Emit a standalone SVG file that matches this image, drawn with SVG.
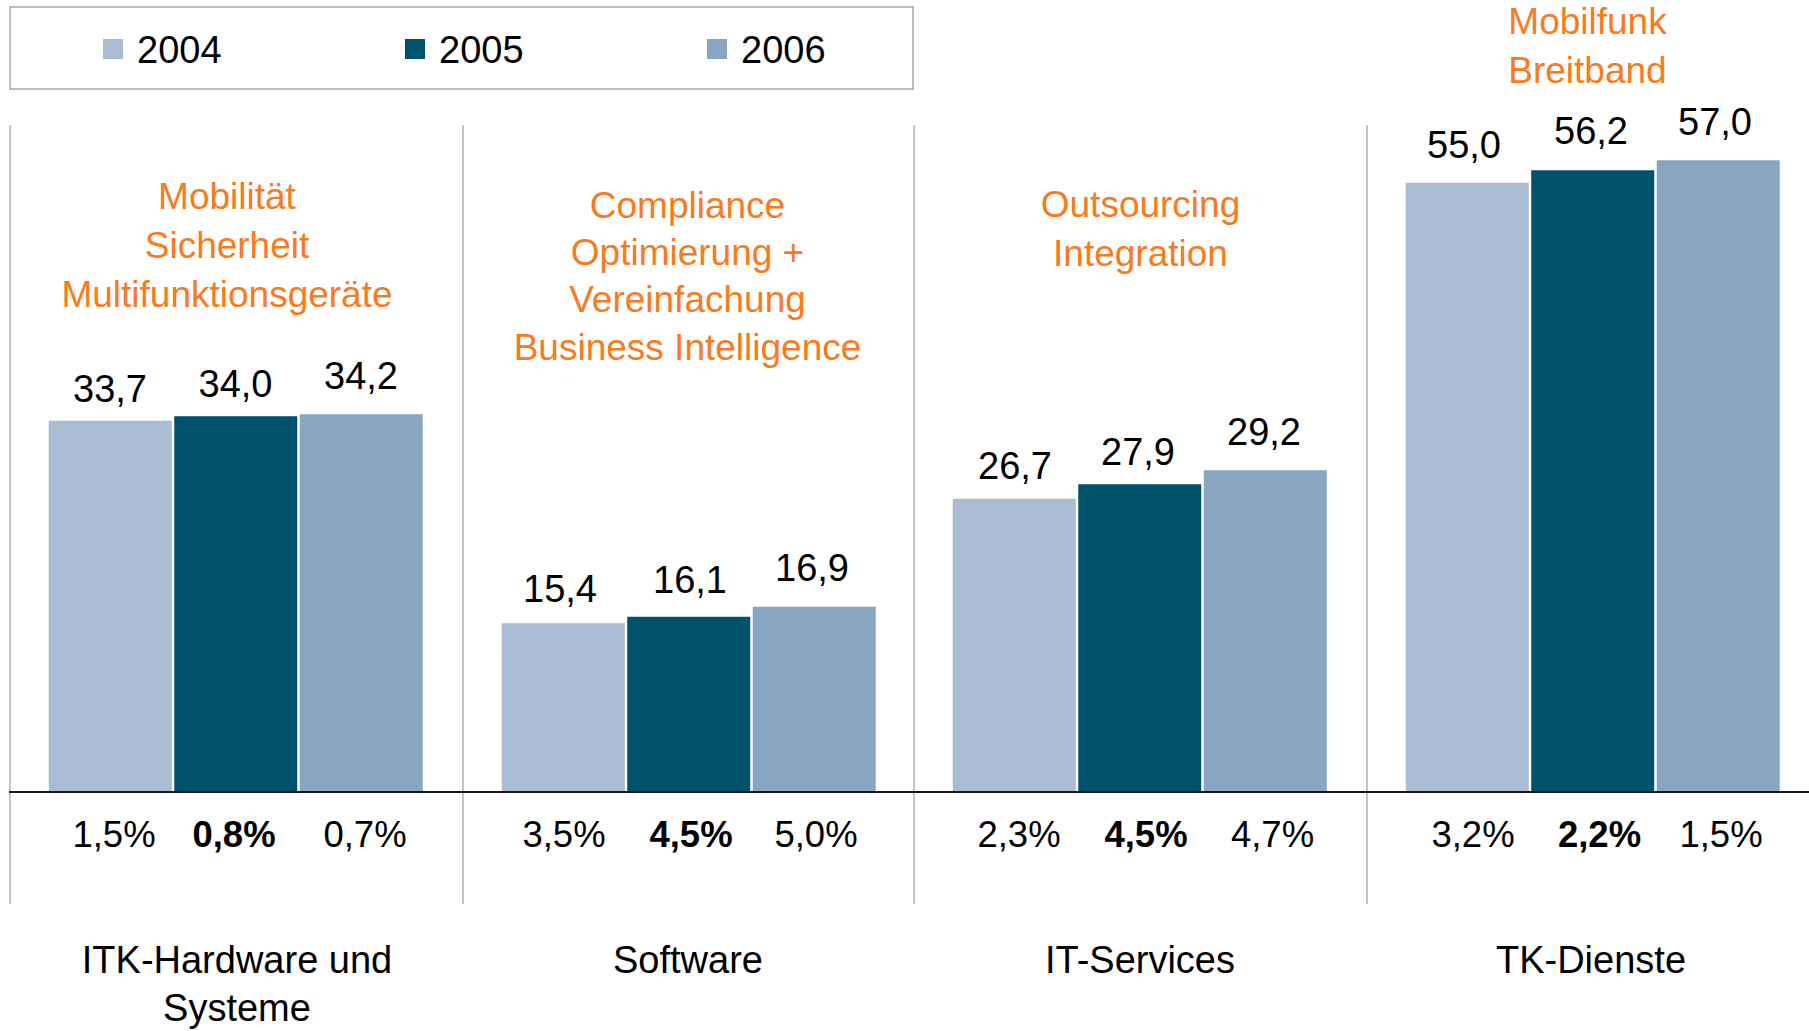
<svg xmlns="http://www.w3.org/2000/svg" width="1809" height="1031" viewBox="0 0 1809 1031">
<style>
text{font-family:"Liberation Sans",Arial,sans-serif;fill:#000}
.leg{font-size:38px}
.val{font-size:38px;text-anchor:middle}
.pct{font-size:36.5px;text-anchor:middle}
.b{font-weight:bold}
.cat{font-size:38px;text-anchor:middle}
.ann{font-size:37px;text-anchor:middle;fill:#FA7A20}
.c4{fill:#AABCD3}
.c5{fill:#00516C}
.c6{fill:#88A5C2}
.bar{stroke:#fff;stroke-width:1.5}
.grid{stroke:#C4C4C4;stroke-width:2;fill:none}
</style>
<rect width="1809" height="1031" fill="#fff"/>
<g id="legend">
<rect x="10" y="7" width="903" height="82" fill="#fff" stroke="#A6A6A6" stroke-width="1.5"/>
<rect class="c4" x="103" y="39" width="20" height="20"/>
<text class="leg" x="137" y="63">2004</text>
<rect class="c5" x="405" y="39" width="20" height="20"/>
<text class="leg" x="439" y="63">2005</text>
<rect class="c6" x="707" y="39" width="20" height="20"/>
<text class="leg" x="741" y="63">2006</text>
</g>
<g id="connectors">
<line class="grid" x1="10" y1="125" x2="10" y2="904"/>
<line class="grid" x1="463" y1="125" x2="463" y2="904"/>
<line class="grid" x1="914" y1="125" x2="914" y2="904"/>
<line class="grid" x1="1367" y1="125" x2="1367" y2="904"/>
</g>
<g id="itk-hardware">
<text class="ann" x="227" y="209">Mobilität</text>
<text class="ann" x="227" y="258">Sicherheit</text>
<text class="ann" x="227" y="307">Multifunktionsgeräte</text>
<rect class="bar c4" x="48" y="420" width="124.5" height="372"/>
<rect class="bar c5" x="173.5" y="415.5" width="124.5" height="376.5"/>
<rect class="bar c6" x="299" y="413.5" width="124.5" height="378.5"/>
<text class="val" x="110" y="401.5">33,7</text>
<text class="val" x="235.5" y="396.5">34,0</text>
<text class="val" x="361" y="388.5">34,2</text>
<text class="pct" x="114" y="847">1,5%</text>
<text class="pct b" x="234" y="847">0,8%</text>
<text class="pct" x="365" y="847">0,7%</text>
<text class="cat" x="237" y="973">ITK-Hardware und</text>
<text class="cat" x="237" y="1021">Systeme</text>
</g>
<g id="software">
<text class="ann" x="687.5" y="217.5">Compliance</text>
<text class="ann" x="687.5" y="265">Optimierung +</text>
<text class="ann" x="687.5" y="311.5">Vereinfachung</text>
<text class="ann" x="687.5" y="359.5">Business Intelligence</text>
<rect class="bar c4" x="501" y="622.5" width="124.5" height="169.5"/>
<rect class="bar c5" x="626.5" y="616" width="124.5" height="176"/>
<rect class="bar c6" x="752" y="606" width="124.5" height="186"/>
<text class="val" x="560" y="601.5">15,4</text>
<text class="val" x="690" y="593">16,1</text>
<text class="val" x="812" y="580.5">16,9</text>
<text class="pct" x="564" y="847">3,5%</text>
<text class="pct b" x="691" y="847">4,5%</text>
<text class="pct" x="816" y="847">5,0%</text>
<text class="cat" x="688" y="973">Software</text>
</g>
<g id="it-services">
<text class="ann" x="1140.5" y="217">Outsourcing</text>
<text class="ann" x="1140.5" y="265.5">Integration</text>
<rect class="bar c4" x="952" y="498" width="124.5" height="294"/>
<rect class="bar c5" x="1077.5" y="483.5" width="124.5" height="308.5"/>
<rect class="bar c6" x="1203" y="469.5" width="124.5" height="322.5"/>
<text class="val" x="1015" y="479">26,7</text>
<text class="val" x="1138" y="465">27,9</text>
<text class="val" x="1264" y="444.5">29,2</text>
<text class="pct" x="1019" y="847">2,3%</text>
<text class="pct b" x="1146" y="847">4,5%</text>
<text class="pct" x="1272.5" y="847">4,7%</text>
<text class="cat" x="1140" y="973">IT-Services</text>
</g>
<g id="tk-dienste">
<text class="ann" x="1587.5" y="34">Mobilfunk</text>
<text class="ann" x="1587.5" y="82.5">Breitband</text>
<rect class="bar c4" x="1405" y="182" width="124.5" height="610"/>
<rect class="bar c5" x="1530.5" y="169.5" width="124.5" height="622.5"/>
<rect class="bar c6" x="1656" y="159.5" width="124.5" height="632.5"/>
<text class="val" x="1464" y="158">55,0</text>
<text class="val" x="1591" y="144">56,2</text>
<text class="val" x="1715" y="135">57,0</text>
<text class="pct" x="1473" y="847">3,2%</text>
<text class="pct b" x="1599.5" y="847">2,2%</text>
<text class="pct" x="1721" y="847">1,5%</text>
<text class="cat" x="1591" y="973">TK-Dienste</text>
</g>
<g id="axis">
<line x1="9" y1="792" x2="1809" y2="792" stroke="#1a1a1a" stroke-width="2"/>
</g>
</svg>
